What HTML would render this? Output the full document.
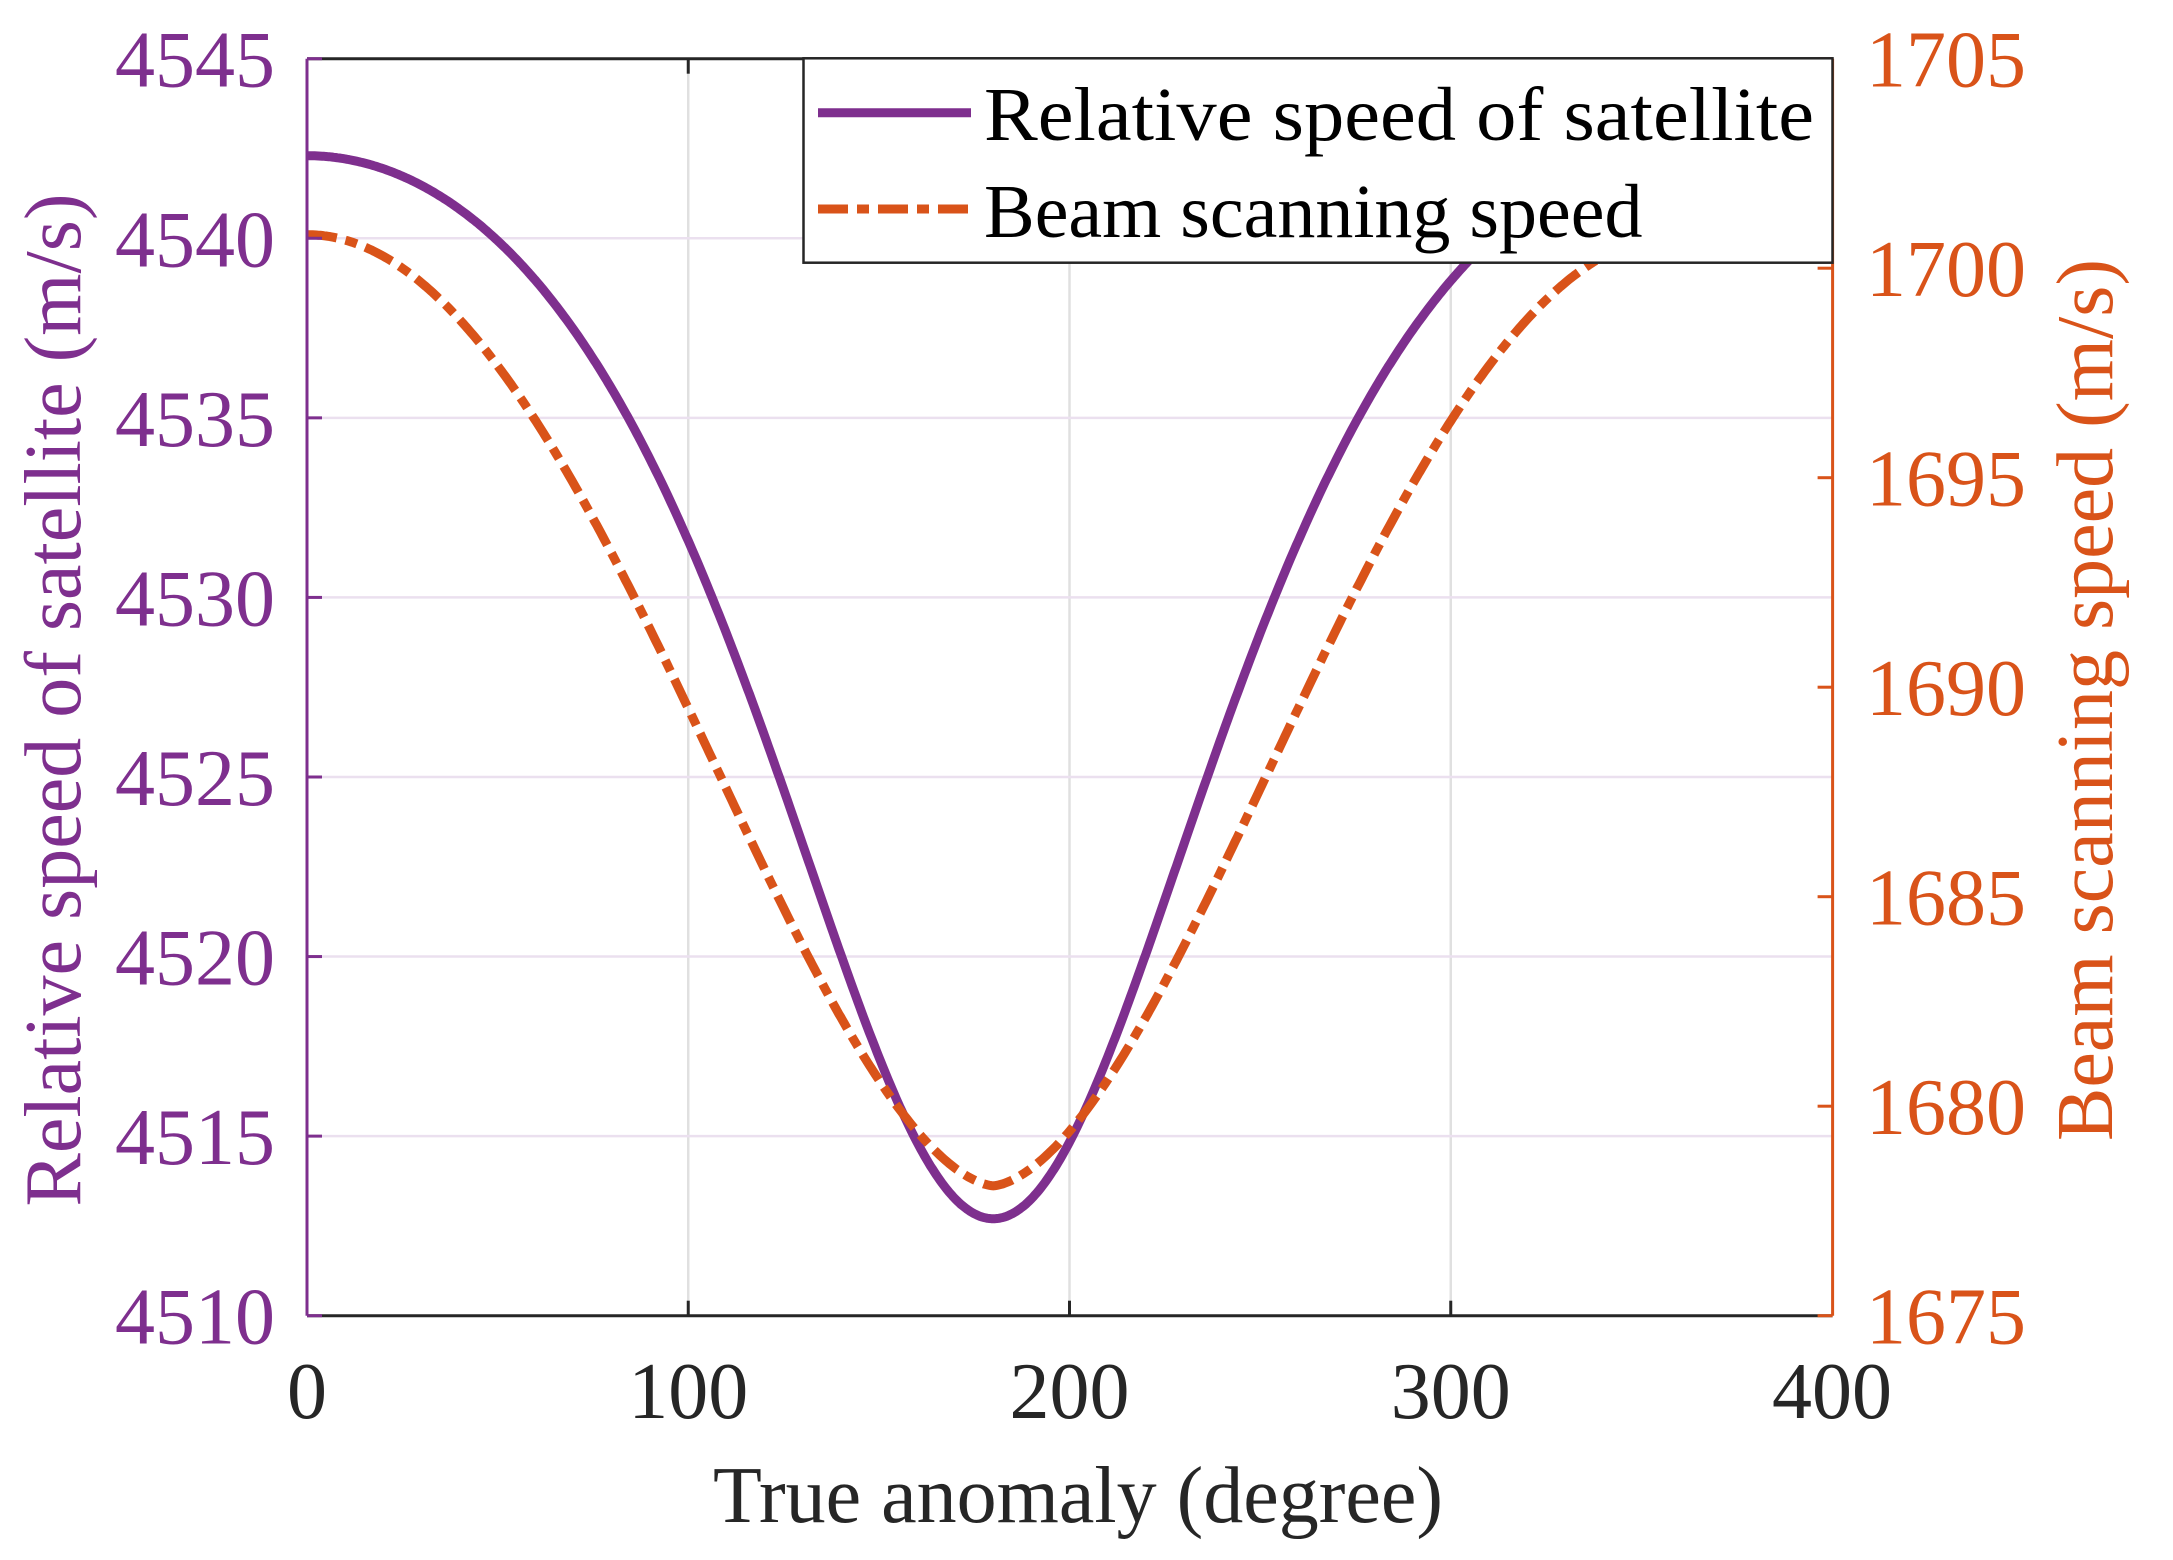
<!DOCTYPE html>
<html><head><meta charset="utf-8"><style>
html,body{margin:0;padding:0;background:#fff}
svg{display:block}
text{font-family:"Liberation Serif",serif}
</style></head><body>
<svg id="s" width="2173" height="1560" xmlns="http://www.w3.org/2000/svg">
<defs><clipPath id="c"><rect x="307" y="58.7" width="1525.6" height="1257"/></clipPath></defs>
<g id="grid"></g>
<g clip-path="url(#c)">
<path id="p1" fill="none" stroke="#7E2F8E" stroke-width="9" stroke-linejoin="round"/>
<path id="p2" fill="none" stroke="#D95319" stroke-width="9" stroke-dasharray="30 9 12 9"/>
</g>
<g id="ax"></g>
<rect x="803.5" y="58.3" width="1029" height="204.4" fill="#fff" stroke="#262626" stroke-width="2.5"/>
<line x1="818" y1="112.7" x2="971" y2="112.7" stroke="#7E2F8E" stroke-width="9"/>
<line x1="818" y1="209" x2="971" y2="209" stroke="#D95319" stroke-width="9" stroke-dasharray="30 9 12 9"/>
<text x="984" y="140" font-size="76" fill="#000" textLength="830" lengthAdjust="spacingAndGlyphs">Relative speed of satellite</text>
<text x="984" y="237" font-size="76" fill="#000">Beam scanning speed</text>
<text x="1078" y="1522" font-size="80" fill="#262626" text-anchor="middle">True anomaly (degree)</text>
<text transform="translate(80,700) rotate(-90)" font-size="80" fill="#7E2F8E" text-anchor="middle">Relative speed of satellite (m/s)</text>
<text transform="translate(2112,700) rotate(-90)" font-size="80" fill="#D95319" text-anchor="middle">Beam scanning speed (m/s)</text>
</svg>
<script>
var L=307,R=1832.6,T=58.7,B=1315.7;
function X(t){return L+t*3.8125}
function YL(v){return B-(v-4510)*35.914}
function YR(w){return B-(w-1675)*41.9}
var g=document.getElementById('grid'),ax=document.getElementById('ax'),h='',a='';
for(var t=100;t<=300;t+=100){h+='<line x1="'+X(t)+'" y1="'+T+'" x2="'+X(t)+'" y2="'+B+'" stroke="#e0e0e0" stroke-width="2.5"/>';}
for(var v=4515;v<=4540;v+=5){h+='<line x1="'+L+'" y1="'+YL(v)+'" x2="'+R+'" y2="'+YL(v)+'" stroke="#ebe0ef" stroke-width="2.5"/>';}
g.innerHTML=h;
a+='<line x1="'+L+'" y1="'+T+'" x2="'+R+'" y2="'+T+'" stroke="#262626" stroke-width="3"/>';
a+='<line x1="'+L+'" y1="'+B+'" x2="'+R+'" y2="'+B+'" stroke="#262626" stroke-width="3"/>';
a+='<line x1="'+L+'" y1="'+T+'" x2="'+L+'" y2="'+B+'" stroke="#7E2F8E" stroke-width="3"/>';
a+='<line x1="'+R+'" y1="'+T+'" x2="'+R+'" y2="'+B+'" stroke="#D95319" stroke-width="3"/>';
for(var t=0;t<=400;t+=100){var x=X(t);
 if(t>0&&t<400){a+='<line x1="'+x+'" y1="'+B+'" x2="'+x+'" y2="'+(B-15)+'" stroke="#262626" stroke-width="3"/><line x1="'+x+'" y1="'+T+'" x2="'+x+'" y2="'+(T+15)+'" stroke="#262626" stroke-width="3"/>';}
 a+='<text x="'+x+'" y="1418" font-size="80" fill="#262626" text-anchor="middle">'+t+'</text>';}
for(var v=4510;v<=4545;v+=5){var y=YL(v);
 a+='<line x1="'+L+'" y1="'+y+'" x2="'+(L+15)+'" y2="'+y+'" stroke="#7E2F8E" stroke-width="3"/>';
 a+='<text x="275" y="'+(y+28)+'" font-size="80" fill="#7E2F8E" text-anchor="end">'+v+'</text>';}
for(var w=1675;w<=1705;w+=5){var y=YR(w);
 a+='<line x1="'+R+'" y1="'+y+'" x2="'+(R-15)+'" y2="'+y+'" stroke="#D95319" stroke-width="3"/>';
 a+='<text x="1866" y="'+(y+28)+'" font-size="80" fill="#D95319">'+w+'</text>';}
ax.innerHTML=a;
function f(t,k){var c=Math.cos(t*Math.PI/180);return (1+c)/(2+k*(1-c));}
var d1='',d2='';
for(var i=0;i<=720;i++){var t=i*0.5;
 var v=4512.7+29.6*f(t,-0.6),w=1678.1+22.7*(0.5*f(t,-0.25)+0.5*Math.pow((1+Math.cos(t*Math.PI/180))/2,0.74));
 d1+=(i?'L':'M')+X(t).toFixed(1)+' '+YL(v).toFixed(1);
 d2+=(i?'L':'M')+X(t).toFixed(1)+' '+YR(w).toFixed(1);}
document.getElementById('p1').setAttribute('d',d1);
document.getElementById('p2').setAttribute('d',d2);
</script>
</body></html>
